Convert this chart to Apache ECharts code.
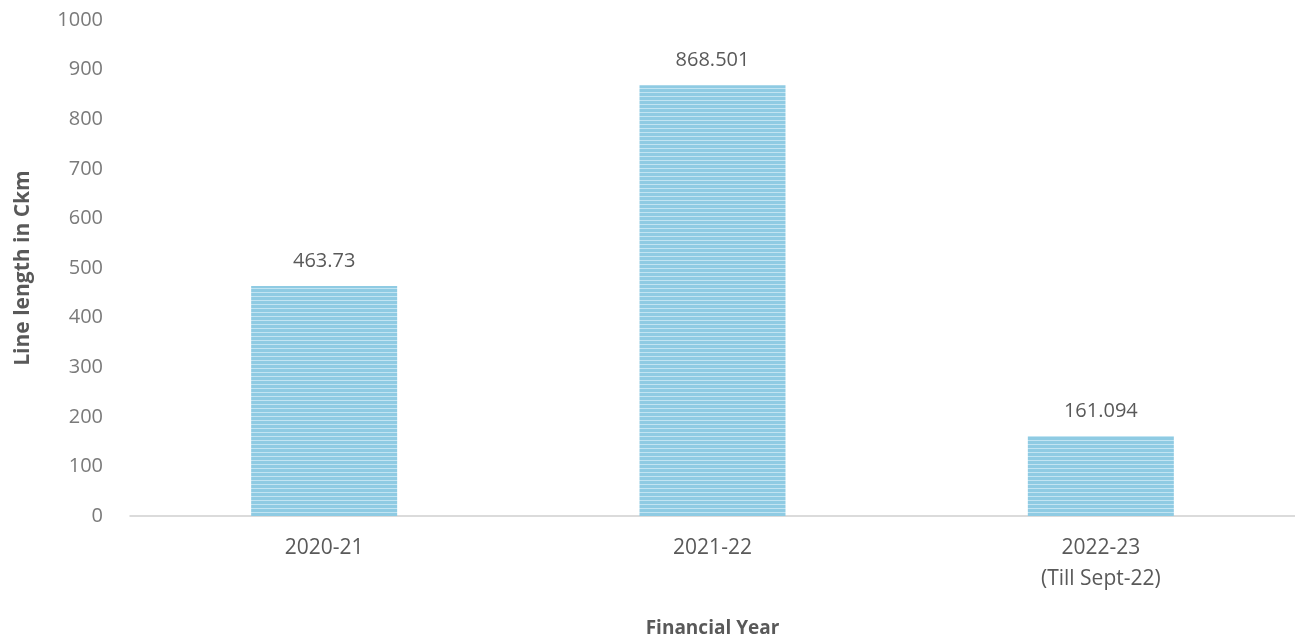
<!DOCTYPE html>
<html><head><meta charset="utf-8">
<script src="https://cdn.jsdelivr.net/npm/echarts@6/dist/echarts.min.js"></script>
<style>html,body{margin:0;padding:0;background:#fff}#c{width:1295px;height:643px}</style>
</head><body><div id="c"></div>
<script>
const categories = ['2020-21', '2021-22', '2022-23\n(Till Sept-22)'];
const values = [463.73, 868.501, 161.094];
const valueLabels = ['463.73', '868.501', '161.094'];
const yTicks = [0, 100, 200, 300, 400, 500, 600, 700, 800, 900, 1000];

const pc = document.createElement('canvas');
pc.width = 8; pc.height = 4;
const ctx = pc.getContext('2d');
ctx.fillStyle = '#8fcbe3'; ctx.fillRect(0, 0, 8, 4);
ctx.fillStyle = '#c2e4f2'; ctx.fillRect(0, 0, 8, 1);

const chart = echarts.init(document.getElementById('c'));
const font = '"Open Sans", sans-serif';
chart.setOption({
  animation: false,
  grid: { left: 130, right: 0, top: 20, bottom: 125 },
  xAxis: {
    type: 'category', data: categories,
    axisLine: { lineStyle: { color: '#d0d0d0', width: 1.5 } },
    axisTick: { show: false },
    axisLabel: { color: '#595959', fontSize: 21, fontFamily: font, margin: 17, lineHeight: 31 },
    name: 'Financial Year', nameLocation: 'middle', nameGap: 103,
    nameTextStyle: { color: '#595959', fontSize: 19, fontWeight: 'bold', fontFamily: font }
  },
  yAxis: {
    type: 'value', min: yTicks[0], max: yTicks[yTicks.length - 1], interval: 100,
    splitLine: { show: false }, axisLine: { show: false }, axisTick: { show: false },
    axisLabel: { color: '#7a7a7a', fontSize: 20, fontFamily: font, margin: 27, formatter: v => String(v) },
    name: 'Line length in Ckm', nameLocation: 'middle', nameGap: 96,
    nameTextStyle: { color: '#595959', fontSize: 21, fontWeight: 'bold', fontFamily: font }
  },
  series: [{
    type: 'bar', data: values, barWidth: 146,
    itemStyle: { color: { image: pc, repeat: 'repeat' } },
    label: {
      show: true, position: 'top', distance: 15, color: '#595959', fontSize: 20, fontFamily: font,
      formatter: p => valueLabels[p.dataIndex]
    }
  }]
});
</script></body></html>
